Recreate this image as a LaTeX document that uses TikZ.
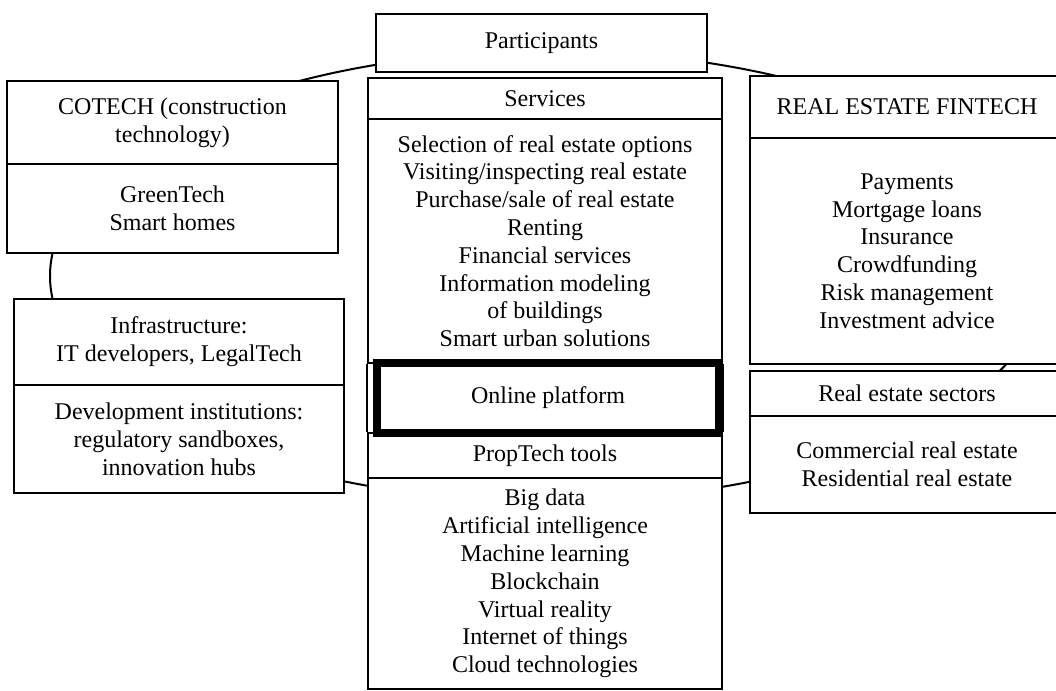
\documentclass[tikz,border=0pt]{standalone}
\usepackage{fontspec}
\setmainfont{Liberation Serif}
\usepackage{tikz}
\usetikzlibrary{positioning, calc}

\begin{document}
\begin{tikzpicture}[x=0.5pt, y=-0.5pt,
    blk/.style={draw, line width=1pt, fill=white, align=center, inner sep=0pt,
        font=\fontsize{12}{13.9}\selectfont},
    thickblk/.style={blk, line width=4pt},
    ring/.style={draw, line width=1pt}]
\useasboundingbox (0,0) rectangle (1056,691);

% Ring behind all blocks
\coordinate (ringc) at (548,276);
\draw[ring] (ringc) ellipse [x radius=249pt, y radius=112.5pt];

% Participants
\node[blk, minimum width=165.5pt, minimum height=29pt] (part) at (541.5,43) {Participants};

% COTECH
\node[blk, minimum width=165.5pt, minimum height=41.5pt] (cohead) at (172.5,122.5) {COTECH (construction\\technology)};
\node[blk, minimum width=165.5pt, minimum height=44.5pt] (cobody) at (172.5,208.5) {GreenTech\\Smart homes};

% Infrastructure and institutions
\node[blk, minimum width=165pt, minimum height=43pt] (infhead) at (179,342) {Infrastructure:\\IT developers, LegalTech};
\node[blk, minimum width=165pt, minimum height=54pt] (infbody) at (179,439) {Development institutions:\\regulatory sandboxes,\\innovation hubs};

% Services column
\node[blk, minimum width=177pt, minimum height=20.5pt] (svchead) at (545,98.5) {Services};
\node[blk, minimum width=177pt, minimum height=122pt] (svcbody) at (545,241) {Selection of real estate options\\Visiting/inspecting real estate\\Purchase/sale of real estate\\Renting\\Financial services\\Information modeling\\of buildings\\Smart urban solutions};
\node[blk, minimum width=177pt, minimum height=22.5pt] (pthead) at (545,455.5) {PropTech tools};
\node[blk, minimum width=177pt, minimum height=105.5pt] (ptbody) at (545,583.5) {Big data\\Artificial intelligence\\Machine learning\\Blockchain\\Virtual reality\\Internet of things\\Cloud technologies};
\draw[line width=1pt] (svcbody.south west) -- (pthead.north west);
\draw[line width=1pt] (svcbody.south east) -- (pthead.north east);
\node[thickblk, minimum width=171pt, minimum height=35pt] (online) at (548,398) {Online platform};

% Real estate fintech
\node[blk, minimum width=157pt, minimum height=31pt] (rehead) at (907,107) {REAL ESTATE FINTECH};
\node[blk, minimum width=157pt, minimum height=113pt] (rebody) at (907,251) {Payments\\Mortgage loans\\Insurance\\Crowdfunding\\Risk management\\Investment advice};

% Real estate sectors
\node[blk, minimum width=157pt, minimum height=22.5pt] (sechead) at (907,393.5) {Real estate sectors};
\node[blk, minimum width=157pt, minimum height=48.5pt] (secbody) at (907,464.5) {Commercial real estate\\Residential real estate};
\end{tikzpicture}
\end{document}
